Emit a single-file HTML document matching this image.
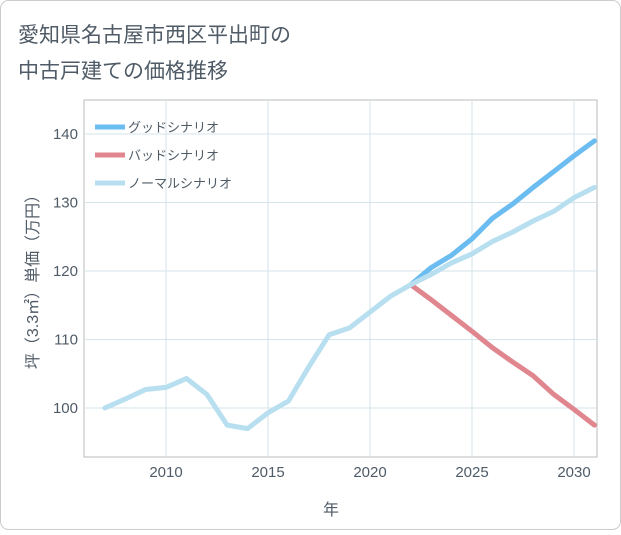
<!DOCTYPE html>
<html><head><meta charset="utf-8"><style>
body{margin:0;background:#fff;}
#wrap{width:621px;height:530px;position:relative;font-family:"Liberation Sans","Noto Sans CJK JP",sans-serif;}
</style></head><body>
<div id="wrap">
<svg id="svg" width="621" height="530" xmlns="http://www.w3.org/2000/svg">
<rect x="0.5" y="0.5" width="620" height="529" rx="8" fill="#fff" stroke="#ccc"/>
<text x="18" y="42" font-size="21" fill="#4f5b66">愛知県名古屋市西区平出町の</text>
<text x="18" y="78" font-size="21" fill="#4f5b66">中古戸建ての価格推移</text>
<g id="grid"></g>
<g id="series"></g>
<text x="331" y="515" font-size="16" fill="#4f5b66" text-anchor="middle">年</text>
<text transform="translate(38,278) rotate(-90)" font-size="16" fill="#4f5b66" text-anchor="middle">坪（3.3㎡）単価（万円）</text>
<g id="legend"></g>
</svg>
</div>
<script>
const years=[2007,2008,2009,2010,2011,2012,2013,2014,2015,2016,2017,2018,2019,2020,2021,2022,2023,2024,2025,2026,2027,2028,2029,2030,2031];
const normalValues=[100,101.3,102.7,103,104.3,102,97.5,97,99.3,101,106,110.7,111.7,114,116.3,118,119.5,121.2,122.5,124.3,125.7,127.3,128.7,130.7,132.2];
const forecastYears=[2022,2023,2024,2025,2026,2027,2028,2029,2030,2031];
const goodValues=[118,120.5,122.3,124.7,127.7,129.8,132.2,134.5,136.8,139];
const badValues=[118,115.8,113.5,111.2,108.8,106.7,104.7,102,99.8,97.5];
const xTicks=[2010,2015,2020,2025,2030];
const yTicks=[100,110,120,130,140];
const legendLabels=["グッドシナリオ","バッドシナリオ","ノーマルシナリオ"];
const NS="http://www.w3.org/2000/svg";
const L=84,R=597,T=100,B=457;
const xs=y=>166+(y-2010)*20.4;
const ys=v=>408-(v-100)*6.85;
const grid=document.getElementById('grid');
function mk(tag,attrs,parent){const e=document.createElementNS(NS,tag);for(const k in attrs)e.setAttribute(k,attrs[k]);parent.appendChild(e);return e;}
mk('rect',{x:L,y:T,width:R-L,height:B-T,fill:'none',stroke:'#bbb'},grid);
xTicks.forEach(t=>{
 const l=mk('line',{x1:xs(t),x2:xs(t),y1:T,y2:B,stroke:'#d5e3ea'},grid);
 
 
 const tx=mk('text',{x:xs(t),y:B+20,'font-size':15,fill:'#4f5b66','text-anchor':'middle'},grid);
 tx.textContent=t;
 
 
});
yTicks.forEach(t=>{
 const l=mk('line',{x1:L,x2:R,y1:ys(t),y2:ys(t),stroke:'#d5e3ea'},grid);
 
 
 const tx=mk('text',{x:L-6,y:ys(t)+5,'font-size':15,fill:'#4f5b66','text-anchor':'end'},grid);
 tx.textContent=t;
 
 
});
const sg=document.getElementById('series');
function line(xv,yv,color,name){
 const d=xv.map((x,i)=>(i?'L':'M')+xs(x).toFixed(1)+','+ys(yv[i]).toFixed(1)).join(' ');
 const p=mk('path',{d:d,fill:'none',stroke:color,'stroke-width':5,'stroke-linejoin':'round','stroke-linecap':'round'},sg);
 
 
}
line(forecastYears,goodValues,'#6bbcf0','good-scenario-line');
line(forecastYears,badValues,'#e0868f','bad-scenario-line');
line(years,normalValues,'#b8dff0','normal-scenario-line');
const lg=document.getElementById('legend');
const lc=['#6bbcf0','#e0868f','#b8dff0'];
legendLabels.forEach((s,i)=>{
 const y=127+i*28;
 const l=mk('line',{x1:95,x2:125,y1:y,y2:y,stroke:lc[i],'stroke-width':5},lg);
 
 
 const t=mk('text',{x:128,y:y+5,'font-size':13,fill:'#4f5b66'},lg);
 t.textContent=s;
 
 
});
</script>
</body></html>
